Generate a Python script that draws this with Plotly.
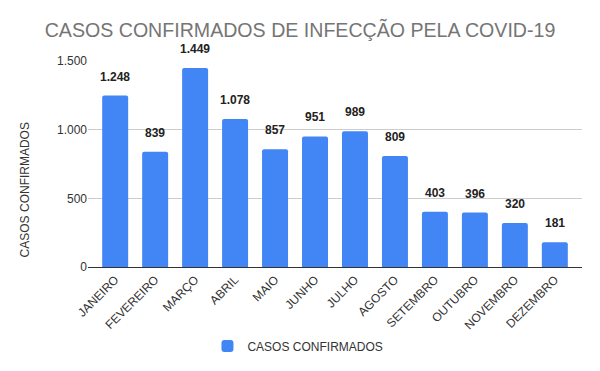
import plotly.graph_objects as go

months = ["JANEIRO", "FEVEREIRO", "MARÇO", "ABRIL", "MAIO", "JUNHO", "JULHO",
          "AGOSTO", "SETEMBRO", "OUTUBRO", "NOVEMBRO", "DEZEMBRO"]
cases = [1248, 839, 1449, 1078, 857, 951, 989, 809, 403, 396, 320, 181]
labels = ["1.248", "839", "1.449", "1.078", "857", "951", "989", "809", "403", "396", "320", "181"]
yticks = [0, 500, 1000, 1500]
ytick_text = ["0", "500", "1.000", "1.500"]

FONT = "Liberation Sans, Arial, sans-serif"

fig = go.Figure(go.Bar(
    x=months, y=cases, name="CASOS CONFIRMADOS",
    marker=dict(color="#4285F4", line=dict(width=0), cornerradius=2),
    showlegend=True,
))

for m, v, t in zip(months, cases, labels):
    fig.add_annotation(x=m, y=v, text=f"<b>{t}</b>", showarrow=False,
                       yanchor="middle", yshift=19,
                       font=dict(family=FONT, size=12, color="#222222"))

# y-axis title (placed lower than the plot centre, as in the reference)
fig.add_annotation(text="CASOS CONFIRMADOS", xref="paper", yref="paper",
                   x=-0.1275, y=0.372, xanchor="center", yanchor="middle",
                   textangle=-90, showarrow=False,
                   font=dict(family=FONT, size=12, color="#333333"))

fig.update_layout(
    width=600, height=371,
    margin=dict(l=88, r=18, t=61, b=103),
    paper_bgcolor="white", plot_bgcolor="white",
    font=dict(family=FONT, size=12, color="#333333"),
    title=dict(text="CASOS CONFIRMADOS DE INFECÇÃO PELA COVID-19",
               font=dict(family=FONT, size=19.6, color="#757575"),
               x=0.5, xanchor="center", y=1 - 30 / 371, yanchor="middle"),
    bargap=0.35,
    showlegend=True,
    legend=dict(orientation="h", x=0.425, xanchor="center", y=-0.377, yanchor="middle",
                font=dict(family=FONT, size=12, color="#333333")),
    xaxis=dict(tickangle=-45, showgrid=False, showline=True, linecolor="#333333",
               linewidth=1, ticks="", range=[-0.68, 11.68], automargin=False,
               tickfont=dict(family=FONT, size=12, color="#333333")),
    yaxis=dict(range=[0, 1500], tickvals=yticks, ticktext=ytick_text,
               showgrid=True, gridcolor="#cccccc", zeroline=False, automargin=False,
               ticks="", ticklen=0, tickfont=dict(family=FONT, size=12, color="#333333")),
)

fig.write_html("out.html", config={"displayModeBar": False},
               post_script="document.body.style.margin='0px';")
